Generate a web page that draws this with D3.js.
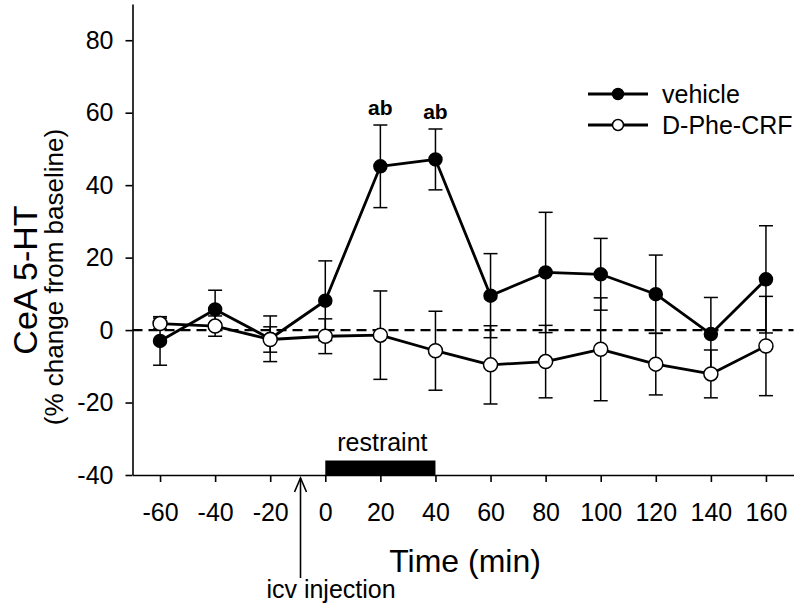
<!DOCTYPE html>
<html>
<head>
<meta charset="utf-8">
<script src="https://cdn.jsdelivr.net/npm/d3@7"></script>
<style>
  html, body { margin: 0; padding: 0; background: #fff; }
  svg { display: block; font-family: "Liberation Sans", Arial, sans-serif; }
</style>
</head>
<body>
<svg id="chart" width="800" height="609"></svg>
<script>
// ---- data ----
const timePoints = [-60, -40, -20, 0, 20, 40, 60, 80, 100, 120, 140, 160];
const vehicleMean = [-3.0, 5.7, -2.4, 8.1, 45.2, 47.1, 9.5, 15.9, 15.4, 9.9, -1.1, 14.0];
const vehicleSem  = [6.7, 5.3, 6.3, 11.0, 11.4, 8.4, 11.6, 16.6, 9.9, 10.8, 10.1, 14.8];
const dpheMean = [1.8, 1.1, -2.6, -1.7, -1.4, -5.7, -9.6, -8.7, -5.3, -9.4, -12.1, -4.4];
const dpheSem  = [1.5, 2.8, 3.5, 4.8, 12.2, 10.9, 10.8, 10.0, 14.2, 8.5, 6.6, 13.7];
const seriesNames = ["vehicle", "D-Phe-CRF"];
const xTicks = [-60, -40, -20, 0, 20, 40, 60, 80, 100, 120, 140, 160];
const yTicks = [-40, -20, 0, 20, 40, 60, 80];
const xDomain = [-70, 170];
const yDomain = [-40, 90];
const restraintPeriod = [0, 40];
const restraintTop = -36;
const injectionTime = -9;
const sigTimes = [20, 40];
const sigLabel = "ab";

// ---- setup ----
const svg = d3.select("#chart");
const FONT = "Liberation Sans, Arial, sans-serif";
const x = d3.scaleLinear().domain(xDomain).range([132.5, 793.5]);
const y = d3.scaleLinear().domain(yDomain).range([475, 4]);

// dashed zero line
svg.append("line")
  .attr("x1", x(xDomain[0])).attr("x2", x(xDomain[1]))
  .attr("y1", y(0)).attr("y2", y(0))
  .attr("stroke", "#000").attr("stroke-width", 2.2)
  .attr("stroke-dasharray", "10,6");

// axes
const xAxis = d3.axisBottom(x).tickValues(xTicks).tickSizeInner(7).tickSizeOuter(0).tickPadding(21)
  .tickFormat(d3.format("d"));
const yAxis = d3.axisLeft(y).tickValues(yTicks).tickSizeInner(7).tickSizeOuter(0).tickPadding(12)
  .tickFormat(d3.format("d"));

const gx = svg.append("g").attr("transform", `translate(0,${y(yDomain[0])})`).call(xAxis);
const gy = svg.append("g").attr("transform", `translate(${x(xDomain[0])},0)`).call(yAxis);
[gx, gy].forEach(g => {
  g.select(".domain").attr("stroke", "#000").attr("stroke-width", 1.6);
  g.selectAll(".tick line").attr("stroke", "#000").attr("stroke-width", 1.6);
  g.selectAll(".tick text").attr("fill", "#000").style("font-family", FONT).style("font-size", "25px");
});
gx.selectAll(".tick text").text(d => d < 0 ? "-" + Math.abs(d) : d);
gy.selectAll(".tick text").text(d => d < 0 ? "-" + Math.abs(d) : d);

// restraint bar
svg.append("rect")
  .attr("x", x(restraintPeriod[0])).attr("width", x(restraintPeriod[1]) - x(restraintPeriod[0]))
  .attr("y", y(restraintTop)).attr("height", y(yDomain[0]) - y(restraintTop))
  .attr("fill", "#000");
svg.append("text")
  .attr("x", x((restraintPeriod[0] + restraintPeriod[1]) / 2) + 2).attr("y", 451)
  .attr("text-anchor", "middle").style("font-size", "25px").style("font-family", FONT)
  .text("restraint");

// injection arrow
const ax = x(injectionTime);
const arrowTop = y(yDomain[0]) + 3;
svg.append("line").attr("x1", ax).attr("x2", ax).attr("y1", arrowTop).attr("y2", 578)
  .attr("stroke", "#000").attr("stroke-width", 1.6);
svg.append("path")
  .attr("d", `M${ax - 6},${arrowTop + 14} L${ax},${arrowTop} L${ax + 6},${arrowTop + 14}`)
  .attr("fill", "none").attr("stroke", "#000").attr("stroke-width", 1.6);
svg.append("text").attr("x", 331).attr("y", 598).attr("text-anchor", "middle")
  .style("font-size", "25px").style("font-family", FONT).text("icv injection");

// axis titles
svg.append("text").attr("x", 465).attr("y", 572).attr("text-anchor", "middle")
  .style("font-size", "32px").style("font-family", FONT).text("Time (min)");
svg.append("text").attr("transform", "translate(37,280) rotate(-90)").attr("text-anchor", "middle")
  .style("font-size", "34px").style("font-family", FONT).text("CeA 5-HT");
svg.append("text").attr("transform", "translate(63,277) rotate(-90)").attr("text-anchor", "middle")
  .style("font-size", "26px").style("font-family", FONT).text("(% change from baseline)");

// series
const series = [
  { name: seriesNames[0], mean: vehicleMean, sem: vehicleSem, fill: "#000", r: 6.5 },
  { name: seriesNames[1], mean: dpheMean, sem: dpheSem, fill: "#fff", r: 7 }
];
const line = d3.line().x(d => x(d.t)).y(d => y(d.v));
const capW = 7;

series.forEach(s => {
  const pts = timePoints.map((t, i) => ({ t, v: s.mean[i], e: s.sem[i] }));
  const g = svg.append("g");
  // error bars
  pts.forEach(p => {
    const cx = x(p.t), yt = y(p.v + p.e), yb = y(p.v - p.e);
    g.append("line").attr("x1", cx).attr("x2", cx).attr("y1", yt).attr("y2", yb)
      .attr("stroke", "#000").attr("stroke-width", 1.5);
    [yt, yb].forEach(yy => g.append("line").attr("x1", cx - capW).attr("x2", cx + capW)
      .attr("y1", yy).attr("y2", yy).attr("stroke", "#000").attr("stroke-width", 1.5));
  });
  g.append("path").datum(pts).attr("d", line).attr("fill", "none")
    .attr("stroke", "#000").attr("stroke-width", 2.8).attr("stroke-linejoin", "round");
  g.selectAll("circle").data(pts).enter().append("circle")
    .attr("cx", d => x(d.t)).attr("cy", d => y(d.v)).attr("r", s.r)
    .attr("fill", s.fill).attr("stroke", "#000").attr("stroke-width", 1.5);
});

// significance labels
sigTimes.forEach(t => {
  const i = timePoints.indexOf(t);
  svg.append("text").attr("x", x(t)).attr("y", y(vehicleMean[i] + vehicleSem[i]) - 10)
    .attr("text-anchor", "middle").style("font-size", "21px").style("font-weight", "bold")
    .style("font-family", FONT).text(sigLabel);
});

// legend
series.forEach((s, i) => {
  const ly = 94 + i * 31;
  svg.append("line").attr("x1", 588).attr("x2", 648).attr("y1", ly).attr("y2", ly)
    .attr("stroke", "#000").attr("stroke-width", 2.8);
  svg.append("circle").attr("cx", 618).attr("cy", ly).attr("r", 5.5)
    .attr("fill", s.fill).attr("stroke", "#000").attr("stroke-width", 1.5);
  svg.append("text").attr("x", 662).attr("y", ly).attr("dy", "0.35em")
    .style("font-size", "25px").style("font-family", FONT).text(s.name);
});
</script>
</body>
</html>
